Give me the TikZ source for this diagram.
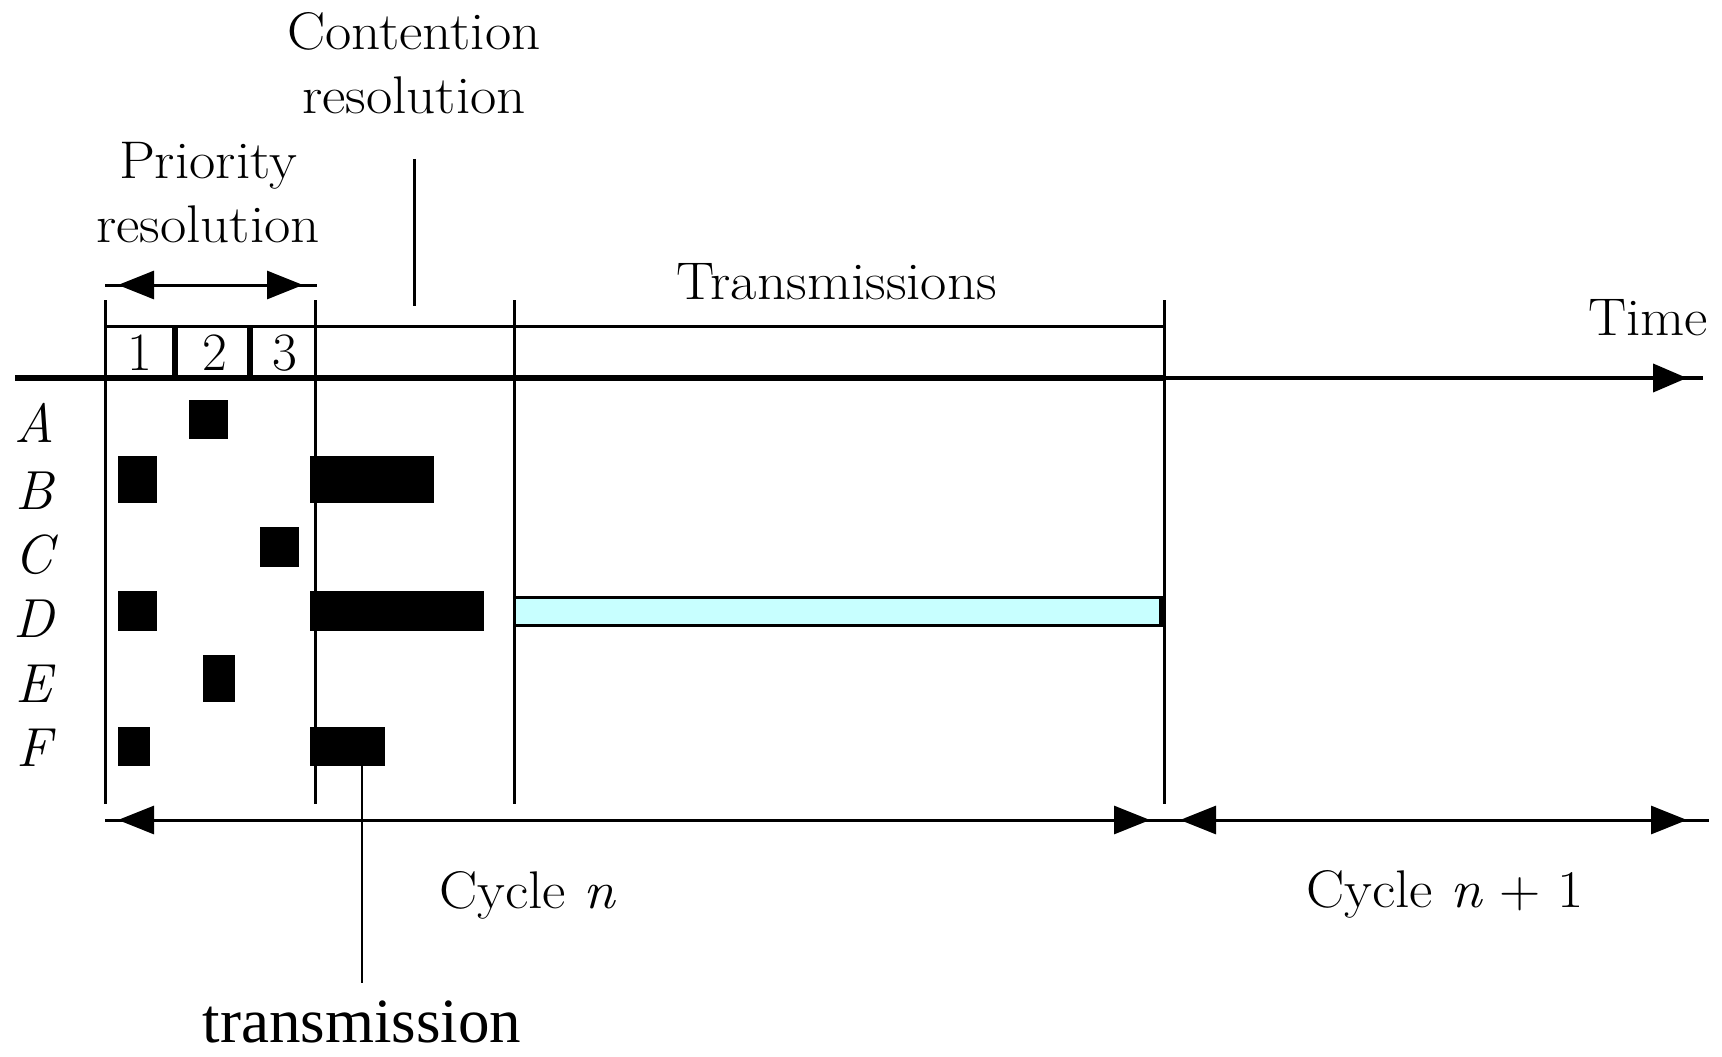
\documentclass[tikz,border=0pt]{standalone}
\usepackage{fontspec}
\newfontfamily\timesfont{Liberation Serif}
\newfontfamily\lblfont[FakeStretch=1.08]{Latin Modern Roman}
\usetikzlibrary{arrows.meta,decorations.markings}
\definecolor{lcyan}{HTML}{C8FFFF}
\begin{document}
\begin{tikzpicture}[x=1pt,y=-1pt,
  lbl/.style={font=\lblfont\fontsize{53}{64}\selectfont, inner sep=0pt, align=center},
  letr/.style={font=\fontsize{55}{64}\selectfont\itshape, inner sep=0pt, anchor=base},
  num/.style={font=\fontsize{54}{64}\selectfont, inner sep=0pt, anchor=base},
  blk/.style={fill=black, draw=none, inner sep=0pt, outer sep=0pt, anchor=north west},
  thinln/.style={line width=3pt},
  thickln/.style={line width=6pt},
  dblarr/.style 2 args={line width=3pt, postaction=decorate, decoration={markings,
     mark=at position #1 with {\arrowreversed{Triangle[length=36pt,width=28pt]}},
     mark=at position -#2 with {\arrow{Triangle[length=36pt,width=28pt]}}}},
  endarr/.style={postaction=decorate, decoration={markings,
     mark=at position -#1 with {\arrow{Triangle[length=34pt,width=28pt]}}}},
]
\fill[white] (0,0) rectangle (1722,1057);
\useasboundingbox (0,0) rectangle (1722,1057);

% vertical boundaries
\coordinate (t1) at (105,300); \coordinate (b1) at (105,804);
\coordinate (t2) at (315,300); \coordinate (b2) at (315,804);
\coordinate (t3) at (514,300); \coordinate (b3) at (514,804);
\coordinate (t4) at (1164,300); \coordinate (b4) at (1164,804);
\draw[thinln] (t1) -- (b1);
\draw[thinln] (t2) -- (b2);
\draw[thinln] (t3) -- (b3);
\draw[thinln] (t4) -- (b4);

% slot box
\draw[thinln] (105,326) -- (1164,326);
\draw[thickln] (175,326) -- (175,378);
\draw[thickln] (250,326) -- (250,378);
\node[num] (n1) at (140,370) {1};
\node[num] (n2) at (215,370) {2};
\node[num] (n3) at (285,370) {3};

% time axis
\coordinate (axL) at (15,378);
\coordinate (axM) at (1164,378);
\coordinate (axR) at (1703,378);
\draw[thickln] (axL) -- (axM);
\draw[line width=4pt, endarr=16pt] (axM) -- (axR);

% station letters
\node[letr] (lA) at (34,442) {A};
\node[letr] (lB) at (34,509) {B};
\node[letr] (lC) at (34,573) {C};
\node[letr] (lD) at (34,637) {D};
\node[letr] (lE) at (34,702) {E};
\node[letr] (lF) at (34,766) {F};

% bursts
\node[blk, minimum width=39pt, minimum height=39pt] (A1) at (189,400) {};
\node[blk, minimum width=39pt, minimum height=47pt] (B1) at (118,456) {};
\node[blk, minimum width=124pt, minimum height=47pt] (B2) at (310,456) {};
\node[blk, minimum width=39pt, minimum height=40pt] (C1) at (260,527) {};
\node[blk, minimum width=39pt, minimum height=40pt] (D1) at (118,591) {};
\node[blk, minimum width=174pt, minimum height=40pt] (D2) at (310,591) {};
\node[blk, minimum width=32pt, minimum height=47pt] (E1) at (203,655) {};
\node[blk, minimum width=32pt, minimum height=39pt] (F1) at (118,727) {};
\node[blk, minimum width=75pt, minimum height=39pt] (F2) at (310,727) {};

% D transmission
\draw[line width=3pt, fill=lcyan] (514,597) rectangle (1162,625);
\draw[line width=6pt] (1162,596) -- (1162,626);

% labels
\node[lbl, anchor=north] (cont) at (414,12) {Contention\\resolution};
\node[lbl, anchor=north] (prio) at (208,142) {Priority\\resolution};
\node[lbl, anchor=base] (trans) at (837,299) {Transmissions};
\node[lbl, anchor=base] (time) at (1648,335) {Time};
\node[lbl, anchor=base] (cyc1) at (527,908) {Cycle {\itshape n}};
\node[lbl, anchor=base] (cyc2) at (1445,907) {Cycle {\itshape n} + 1};
\node[font=\timesfont\fontsize{63}{70}\selectfont, anchor=base, inner sep=0pt] (tx) at (362,1042) {transmission};

% leaders
\draw[thinln] ([yshift=-45pt]cont.south) -- ++(0,147);
\draw[line width=2.5pt] (F2.south -| tx.north) -- ([yshift=17pt]tx.north);

% span arrows
\draw[dblarr={13pt}{14pt}] (105,285) -- (317,285);
\draw[dblarr={13pt}{14pt}] (105,820) -- (1164,820);
\draw[dblarr={16pt}{22pt}] (1164,820) -- (1709,820);
\end{tikzpicture}
\end{document}
